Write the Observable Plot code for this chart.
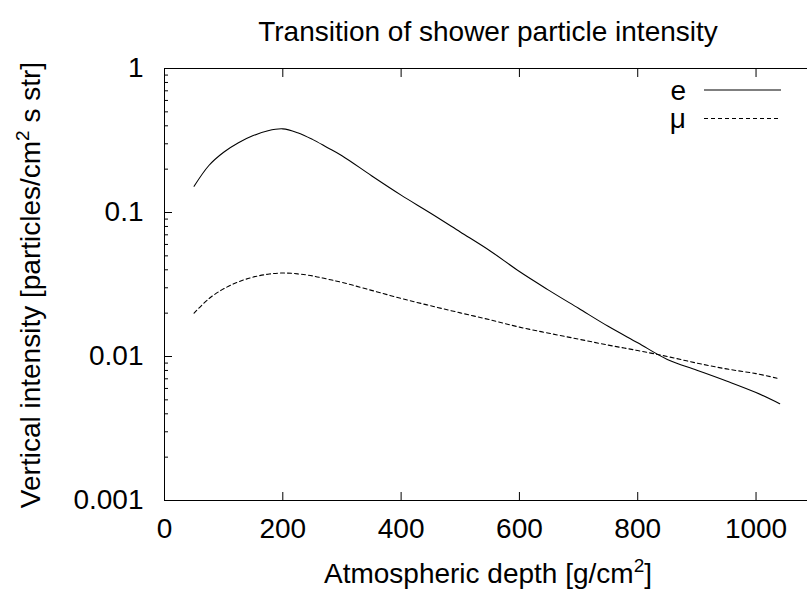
<!DOCTYPE html>
<html>
<head>
<meta charset="utf-8">
<script src="https://cdn.jsdelivr.net/npm/d3@7"></script>
<script src="https://cdn.jsdelivr.net/npm/@observablehq/plot@0.6"></script>
<style>
  html, body { margin: 0; padding: 0; background: white; }
  #chart { position: relative; width: 807px; height: 590px; }
</style>
</head>
<body>
<div id="chart"></div>
<script>
// ---- data ----
const depth = [50, 75, 100, 125, 150, 175, 200, 225, 250, 275, 300, 350, 400, 450, 500, 550, 600, 650, 700, 750, 800, 850, 900, 950, 1000, 1040];
const electron = [0.152, 0.212, 0.262, 0.305, 0.342, 0.370, 0.381, 0.358, 0.322, 0.283, 0.248, 0.180, 0.132, 0.0989, 0.0733, 0.0543, 0.0389, 0.0288, 0.0216, 0.0162, 0.01245, 0.00955, 0.00804, 0.00676, 0.00562, 0.0047];
const muon = [0.0200, 0.0252, 0.0295, 0.0330, 0.0356, 0.0373, 0.0380, 0.0375, 0.0363, 0.0345, 0.0327, 0.0288, 0.0253, 0.0225, 0.0201, 0.0180, 0.0160, 0.0145, 0.0132, 0.0120, 0.0110, 0.0100, 0.0090, 0.0082, 0.0076, 0.0070];
const xTicks = [0, 200, 400, 600, 800, 1000];
const yTicks = [0.001, 0.01, 0.1, 1];
const yTickLabels = ["0.001", "0.01", "0.1", "1"];
const yMinor = [2,3,4,5,6,7,8,9].flatMap(m => [0.001, 0.01, 0.1].map(d => +(m * d).toPrecision(3)));
const seriesNames = ["e", "\u03bc"];
const titleText = "Transition of shower particle intensity";
const xLabelParts = ["Atmospheric depth [g/cm", "2", "]"];
const yLabelParts = ["Vertical intensity [particles/cm", "2", " s str]"];

const rows = depth.map((d, i) => ({depth: d, e: electron[i], mu: muon[i]}));

const font = "'Liberation Sans', Arial, Helvetica, sans-serif";
const fs = 28;

const chart = Plot.plot({
  width: 807,
  height: 590,
  marginLeft: 164,
  marginRight: 0,
  marginTop: 68,
  marginBottom: 90,
  style: {fontFamily: font, fontSize: fs + "px", color: "black", background: "white", overflow: "visible"},
  x: {domain: [0, 1087], label: null},
  y: {type: "log", domain: [0.001, 1], label: null},
  marks: [
    // frame (left, bottom, top)
    Plot.ruleX([0], {stroke: "black", strokeWidth: 1}),
    Plot.ruleY([0.001, 1], {stroke: "black", strokeWidth: 1}),
    // tick labels
    Plot.axisX({ticks: xTicks, tickSize: 0, tickPadding: 18, tickFormat: d => String(d), fontSize: fs}),
    Plot.axisY({ticks: yTicks, tickSize: 0, tickPadding: 21, tickFormat: d => yTickLabels[yTicks.indexOf(d)], fontSize: fs}),
    // inward tick marks
    Plot.axisX({ticks: xTicks, anchor: "bottom", tickSize: 8, insetBottom: 8, fill: "none"}),
    Plot.axisX({ticks: xTicks, anchor: "top", tickSize: 8, insetTop: 8, fill: "none"}),
    Plot.axisY({ticks: yTicks, anchor: "left", tickSize: 8, insetLeft: 8, fill: "none"}),
    Plot.axisY({ticks: yMinor, anchor: "left", tickSize: 4, insetLeft: 4, fill: "none"}),
    // curves
    Plot.line(rows, {x: "depth", y: "e", stroke: "black", strokeWidth: 1.1, curve: "catmull-rom"}),
    Plot.line(rows, {x: "depth", y: "mu", stroke: "black", strokeWidth: 1.1, strokeDasharray: "4,3", curve: "catmull-rom"})
  ]
});

document.getElementById("chart").appendChild(chart);

// ---- text overlays: title, axis labels with superscripts, legend ----
const svg = d3.select(chart);

svg.append("text")
  .attr("x", 488).attr("y", 41)
  .attr("text-anchor", "middle")
  .style("font-family", font)
  .style("font-size", fs + "px")
  .attr("fill", "black")
  .text(titleText);

function supText(g, parts) {
  g.append("tspan").text(parts[0]);
  g.append("tspan").attr("dy", -11).style("font-size", "19px").text(parts[1]);
  g.append("tspan").attr("dy", 11).text(parts[2]);
}

const xl = svg.append("text")
  .attr("x", 488).attr("y", 583)
  .attr("text-anchor", "middle")
  .style("font-family", font).style("font-size", fs + "px").attr("fill", "black");
supText(xl, xLabelParts);

const yl = svg.append("text")
  .attr("transform", "translate(40,285) rotate(-90)")
  .attr("text-anchor", "middle")
  .style("font-family", font).style("font-size", fs + "px").attr("fill", "black");
supText(yl, yLabelParts);

const legend = svg.append("g").style("font-family", font).style("font-size", fs + "px");
const legendY = [90, 118.5];
const legendBase = [100, 128];
seriesNames.forEach((name, i) => {
  legend.append("text").attr("x", 686).attr("y", legendBase[i]).attr("text-anchor", "end").attr("fill", "black").text(name);
  legend.append("line").attr("x1", 704).attr("x2", 781).attr("y1", legendY[i]).attr("y2", legendY[i])
    .attr("stroke", "black").attr("stroke-width", 1.1).attr("stroke-dasharray", i === 1 ? "4,3" : null);
});
</script>
</body>
</html>
